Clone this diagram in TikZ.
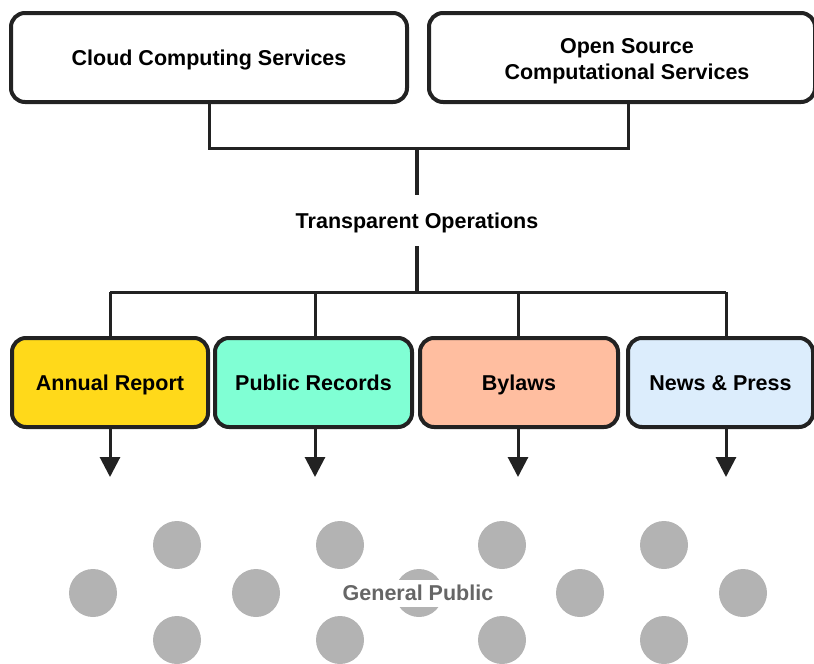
\documentclass[tikz,border=0pt]{standalone}
\usepackage{fontspec}
\setmainfont{Liberation Sans}
\usetikzlibrary{arrows.meta}
\definecolor{ink}{HTML}{222222}
\definecolor{cYellow}{HTML}{FFD91A}
\definecolor{cMint}{HTML}{80FFD4}
\definecolor{cSalmon}{HTML}{FFBEA0}
\definecolor{cSky}{HTML}{DCEDFC}
\definecolor{dot}{HTML}{B3B3B3}
\definecolor{label}{HTML}{666666}
\tikzset{
  base/.style={font=\fontsize{21.5}{26}\selectfont\bfseries, text=black,
    text height=20.4pt, text depth=4pt},
  twoline/.style={font=\fontsize{21.5}{26}\selectfont\bfseries, text=black, align=center},
  boxframe/.style={draw=ink, line width=4pt, rounded corners=14pt,
    minimum height=89pt, inner sep=0pt},
  topbox/.style={base, boxframe, fill=white},
  docbox/.style={base, boxframe},
  link/.style={draw=ink, line width=3pt},
  trunk/.style={draw=ink, line width=4.5pt},
  feed/.style={draw=ink, line width=3pt, -{Triangle[width=20pt,length=20pt]}},
  person/.style={fill=dot, draw=none},
}
\begin{document}
\begin{tikzpicture}[x=1pt, y=-1pt]
\useasboundingbox (0,0) rectangle (814,664);

% sources
\node[topbox, minimum width=396pt] (cloud) at (209,57.5) {Cloud Computing Services};
\node[boxframe, fill=white, minimum width=386pt] (open) at (622,57.5) {};
\node[twoline] (openlbl) at (627,61.3) {Open Source\\Computational Services};
\coordinate (openfoot) at (628,102);
\coordinate (srcjoin) at (417,148);

% hub
\node[base, minimum height=51pt, inner sep=0pt] (ops) at (417,220.5) {Transparent Operations};
\coordinate (fan) at (417,292);

% published documents
\node[docbox, fill=cYellow, minimum width=196pt] (annual) at (110,382.5) {Annual Report};
\node[docbox, fill=cMint, minimum width=197pt] (records) at (313.5,382.5) {Public Records};
\node[docbox, fill=cSalmon, minimum width=198pt] (bylaws) at (519,382.5) {Bylaws};
\node[docbox, fill=cSky, minimum width=185pt] (news) at (720.5,382.5) {News \& Press};

\coordinate (dA) at (110,292);
\coordinate (dR) at (315,292);
\coordinate (dB) at (518,292);
\coordinate (dN) at (726,292);

% audience
\foreach \x/\y in {177/545, 340/545, 502/545, 664/545,
                   93/593, 256/593, 419/593, 580/593, 743/593,
                   177/640, 340/640, 502/640, 664/640}
  \fill[person] (\x,\y) circle (24);
\node[base, text=label, fill=white, inner xsep=2pt, inner ysep=3.5pt,
      text height=17pt, text depth=3pt] (public) at (418,593) {General Public};

% source connectors
\draw[link] (cloud.south) |- (srcjoin) -| (openfoot);
\draw[trunk] (srcjoin) -- (ops.north);
\draw[trunk] (ops.south) -- (fan);

% fan-out
\draw[link] (dA) -- (dN);
\draw[link] (dA) -- (annual.north -| dA);
\draw[link] (dR) -- (records.north -| dR);
\draw[link] (dB) -- (bylaws.north -| dB);
\draw[link] (dN) -- (news.north -| dN);

% delivery arrows
\draw[feed] (annual.south -| dA) -- ++(0,48);
\draw[feed] (records.south -| dR) -- ++(0,48);
\draw[feed] (bylaws.south -| dB) -- ++(0,48);
\draw[feed] (news.south -| dN) -- ++(0,48);
\end{tikzpicture}
\end{document}
